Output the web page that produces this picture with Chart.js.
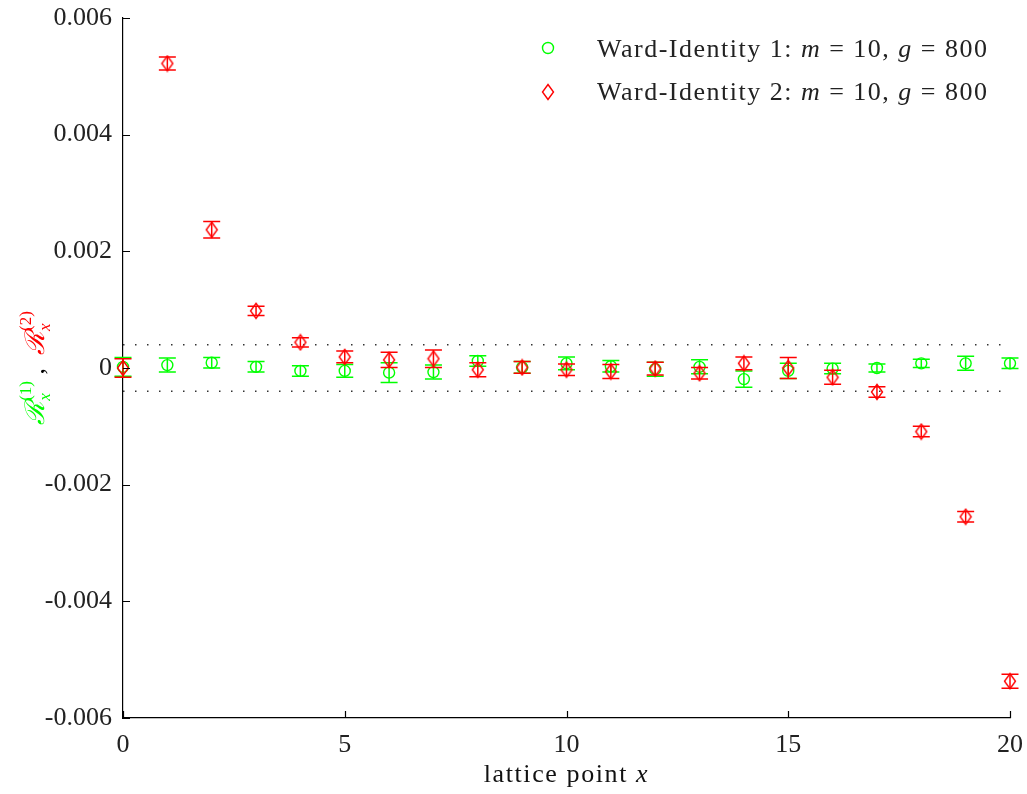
<!DOCTYPE html>
<html>
<head>
<meta charset="utf-8">
<script src="https://cdn.jsdelivr.net/npm/chart.js@4.4.1/dist/chart.umd.min.js"></script>
<style>
  html, body { margin: 0; padding: 0; background: #fff; }
  #wrap { width: 1027px; height: 794px; position: relative; }
</style>
</head>
<body>
<div id="wrap"><canvas id="c"></canvas></div>
<script>
// lattice points and the two Ward-identity residuals
const latticeX = [0, 1, 2, 3, 4, 5, 6, 7, 8, 9, 10, 11, 12, 13, 14, 15, 16, 17, 18, 19, 20];
const wi1 = [0.00002, 0.00005, 0.00009, 0.00002, -0.00005, -0.00005, -0.00008, -0.00007, 0.00012, 0.00001, 0.00008,
             0.00003, -0.00002, 0.00002, -0.00019, -0.00005, -0.00001, 0.00000, 0.00008, 0.00008, 0.00008];
const wi1Err = [0.00016, 0.00012, 0.00009, 0.00009, 0.00009, 0.00011, 0.00017, 0.00012, 0.00009, 0.00010, 0.00011,
                0.00010, 0.00012, 0.00012, 0.00014, 0.00013, 0.00009, 0.00007, 0.00007, 0.00012, 0.00009];
const wi2 = [0.00000, 0.00522, 0.00237, 0.00098, 0.00044, 0.00019, 0.00014, 0.00016, -0.00003, 0.00001, -0.00003,
             -0.00006, -0.00001, -0.00009, 0.00008, 0.00000, -0.00016, -0.00041, -0.00109, -0.00255, -0.00537];
const wi2Err = [0.00016, 0.00011, 0.00014, 0.00008, 0.00008, 0.00010, 0.00013, 0.00015, 0.00012, 0.00010, 0.00010,
                0.00012, 0.00011, 0.00010, 0.00011, 0.00018, 0.00012, 0.00009, 0.00009, 0.00009, 0.00012];
// dotted band
const bandX = [0, 20];
const bandHi = [0.0004, 0.0004];
const bandLo = [-0.0004, -0.0004];
const yTicks = [-0.006, -0.004, -0.002, 0, 0.002, 0.004, 0.006];
const xTicks = [0, 5, 10, 15, 20];

const GREEN = "#00ff00";
const RED = "#ff0000";
const SERIF = "'Liberation Serif', 'Times New Roman', serif";

// elongated diamond marker
function diamond() {
  const cv = document.createElement("canvas");
  cv.width = 14; cv.height = 18;
  const g = cv.getContext("2d");
  g.strokeStyle = RED; g.lineWidth = 1.4;
  g.beginPath();
  g.moveTo(7, 1.5); g.lineTo(12.5, 9); g.lineTo(7, 16.5); g.lineTo(1.5, 9); g.closePath();
  g.stroke();
  return cv;
}
const diamondImg = diamond();

const pts = (xs, ys) => xs.map((x, i) => ({ x, y: ys[i] }));

// draw error bars right after each dataset
const errorBars = {
  id: "errorBars",
  afterDatasetDraw(chart, args) {
    const ds = chart.data.datasets[args.index];
    if (!ds.errors) return;
    const { ctx, scales: { x, y } } = chart;
    ctx.save();
    ctx.strokeStyle = ds.borderColor;
    ctx.lineWidth = 1.5;
    ds.data.forEach((p, i) => {
      const px = x.getPixelForValue(p.x);
      const top = y.getPixelForValue(p.y + ds.errors[i]);
      const bot = y.getPixelForValue(p.y - ds.errors[i]);
      ctx.beginPath();
      ctx.moveTo(px, top); ctx.lineTo(px, bot);
      ctx.moveTo(px - 8.5, top); ctx.lineTo(px + 8.5, top);
      ctx.moveTo(px - 8.5, bot); ctx.lineTo(px + 8.5, bot);
      ctx.stroke();
    });
    ctx.restore();
  },
};

// draws text pieces [text, italic, color, size, dy, advance] one after another
function runs(ctx, x, y, parts) {
  let cx = x;
  parts.forEach(([t, it, col, size, dy, adv]) => {
    ctx.font = `${it ? "italic " : ""}${size}px ${SERIF}`;
    ctx.fillStyle = col;
    ctx.fillText(t, cx, y + (dy || 0));
    if (adv !== false) cx += ctx.measureText(t).width;
  });
  return cx - x;
}
function runsWidth(ctx, parts) {
  let w = 0;
  parts.forEach(([t, it, col, size, dy, adv]) => {
    ctx.font = `${it ? "italic " : ""}${size}px ${SERIF}`;
    if (adv !== false) w += ctx.measureText(t).width;
  });
  return w;
}

// inward ticks, axis titles and legend
const decor = {
  id: "decor",
  afterDraw(chart) {
    const { ctx, chartArea: a, scales: { x, y } } = chart;
    ctx.save();
    ctx.strokeStyle = "#000";
    ctx.lineWidth = 1.2;
    ctx.beginPath();
    y.ticks.forEach((t) => {
      const py = Math.round(y.getPixelForValue(t.value)) + 0.5;
      ctx.moveTo(a.left, py); ctx.lineTo(a.left + 7, py);
    });
    x.ticks.forEach((t) => {
      const px = Math.round(x.getPixelForValue(t.value)) + 0.5;
      ctx.moveTo(px, a.bottom); ctx.lineTo(px, a.bottom - 7);
    });
    ctx.stroke();

    ctx.textBaseline = "alphabetic";
    ctx.textAlign = "left";
    ctx.letterSpacing = "1.6px";

    // x title: lattice point x
    const xt = [["lattice point ", false, "#111", 26], ["x", true, "#111", 26]];
    const xw = runsWidth(ctx, xt);
    runs(ctx, (a.left + a.right) / 2 - xw / 2, 782, xt);

    // y title: R_x^(1) , R_x^(2)
    ctx.letterSpacing = "0px";
    ctx.save();
    ctx.translate(44, (a.top + a.bottom) / 2);
    ctx.rotate(-Math.PI / 2);
    const yt = [
      ["\u211B", true, GREEN, 27],
      ["x", true, GREEN, 17, 6, false],
      ["(1)", false, GREEN, 17, -13],
      [" ,  ", false, "#000", 26],
      ["\u211B", true, RED, 27],
      ["x", true, RED, 17, 6, false],
      ["(2)", false, RED, 17, -13],
    ];
    const yw = runsWidth(ctx, yt);
    runs(ctx, -yw / 2, 0, yt);
    ctx.restore();

    // legend
    ctx.letterSpacing = "1.5px";
    ctx.strokeStyle = GREEN; ctx.lineWidth = 1.4;
    ctx.beginPath(); ctx.arc(548, 48, 5.5, 0, Math.PI * 2); ctx.stroke();
    ctx.drawImage(diamondImg, 541, 83);
    [[48, "1"], [91, "2"]].forEach(([ly, n]) => {
      runs(ctx, 597, ly + 9, [
        [`Ward-Identity ${n}: `, false, "#222", 26],
        ["m", true, "#222", 26],
        [" = 10, ", false, "#222", 26],
        ["g", true, "#222", 26],
        [" = 800", false, "#222", 26],
      ]);
    });
    ctx.restore();
  },
};

new Chart(document.getElementById("c"), {
  type: "scatter",
  data: {
    datasets: [
      {
        label: "Ward-Identity 2: m = 10, g = 800",
        data: pts(latticeX, wi2),
        errors: wi2Err,
        pointStyle: diamondImg,
        borderColor: RED,
        backgroundColor: RED,
        clip: false,
      },
      {
        label: "Ward-Identity 1: m = 10, g = 800",
        data: pts(latticeX, wi1),
        errors: wi1Err,
        pointStyle: "circle",
        pointRadius: 5.5,
        pointBorderWidth: 1.4,
        borderColor: GREEN,
        backgroundColor: "rgba(0,0,0,0)",
        clip: false,
      },
      {
        data: pts(bandX, bandHi),
        showLine: true, pointRadius: 0,
        borderColor: "#333", borderWidth: 1.5, borderDash: [1.5, 10.5],
      },
      {
        data: pts(bandX, bandLo),
        showLine: true, pointRadius: 0,
        borderColor: "#333", borderWidth: 1.5, borderDash: [1.5, 10.5],
      },
    ],
  },
  options: {
    responsive: true,
    maintainAspectRatio: false,
    animation: false,
    layout: { padding: { left: 0, right: 17, top: 18, bottom: 0 } },
    plugins: { legend: { display: false }, tooltip: { enabled: false } },
    scales: {
      x: {
        type: "linear", min: 0, max: 20,
        afterBuildTicks: (s) => { s.ticks = xTicks.map((v) => ({ value: v })); },
        afterFit: (s) => { s.height = 76; s.paddingLeft = 0; s.paddingRight = 0; },
        grid: { drawOnChartArea: false, drawTicks: false },
        border: { color: "#000", width: 1.2 },
        ticks: { padding: 12, color: "#222", font: { family: SERIF, size: 26 } },
      },
      y: {
        min: -0.006, max: 0.006,
        afterBuildTicks: (s) => { s.ticks = yTicks.map((v) => ({ value: v })); },
        afterFit: (s) => { s.width = 123; s.paddingTop = 0; s.paddingBottom = 0; },
        grid: { drawOnChartArea: false, drawTicks: false },
        border: { color: "#000", width: 1.2 },
        ticks: {
          padding: 11, color: "#222", font: { family: SERIF, size: 26 },
          callback: (v) => (Math.abs(v) < 1e-9 ? "0" : v.toFixed(3)),
        },
      },
    },
  },
  plugins: [errorBars, decor],
});
</script>
</body>
</html>
